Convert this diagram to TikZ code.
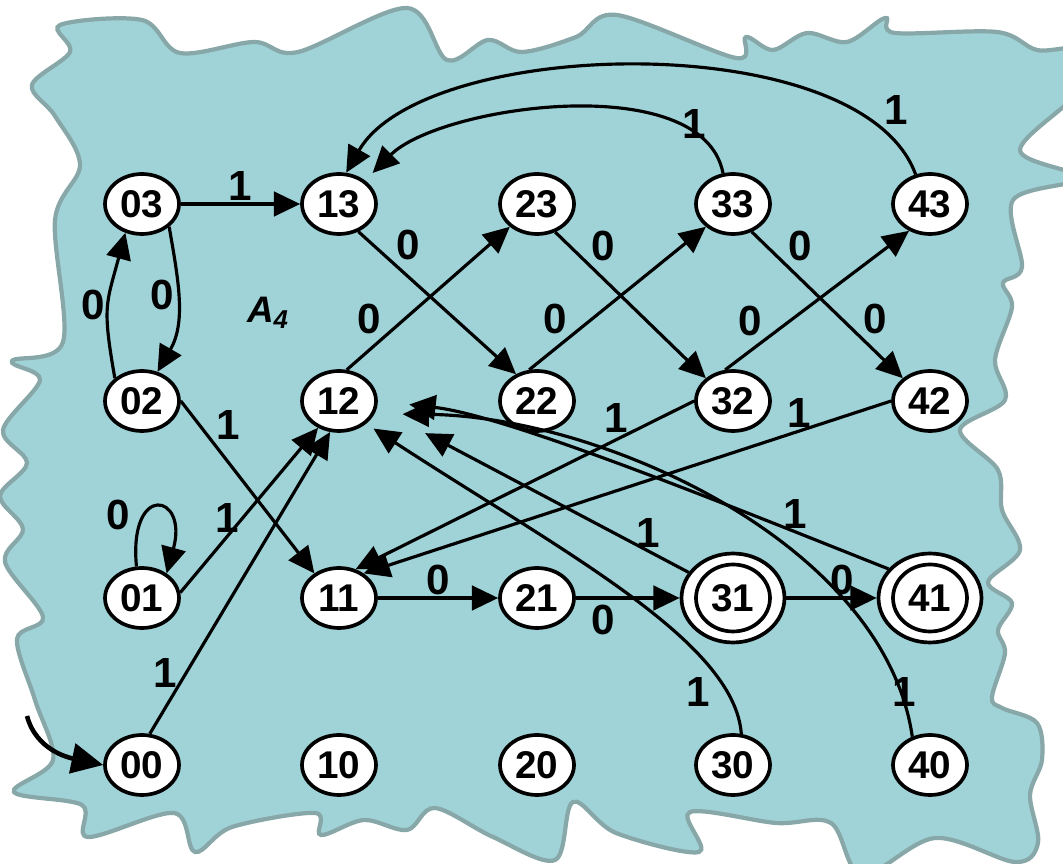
\documentclass[tikz,border=0pt]{standalone}
\usepackage{fontspec}
\setmainfont{Liberation Sans}
\usepackage{tikz}
\usetikzlibrary{shapes, arrows.meta, positioning, calc}

\definecolor{paper}{HTML}{9FD3D7}
\definecolor{paperedge}{HTML}{88A7A8}

\tikzset{
	state/.style = {ellipse, draw, line width=2.1pt, fill=white, minimum width=1.48cm,
		minimum height=1.2cm, inner sep=0pt, font=\bfseries\fontsize{22}{26}\selectfont},
	accepting/.style = {state, minimum width=2.06cm, minimum height=1.78cm,
		path picture={\draw[line width=2.1pt] (path picture bounding box.center) ellipse [x radius=0.74cm, y radius=0.67cm];}},
	trans/.style = {-{Triangle[length=15pt,width=14pt]}, line width=1.8pt},
	initarrow/.style = {-{Triangle[length=18pt,width=17pt]}, line width=2.6pt},
	lab/.style = {font=\bfseries\fontsize{24}{28}\selectfont, inner sep=1pt}
}

\begin{document}
\begin{tikzpicture}[x=0.02cm, y=0.02cm]
	\useasboundingbox (0,0) rectangle (1063,-864);
	% torn paper background
	\begin{scope}
		\clip (0,0) rectangle (1063,-864);
		\draw[paperedge, line width=2.4pt, fill=paper] plot[smooth cycle, tension=0.55] coordinates {
			(60,-25) (142,-20) (180,-53) (254,-42) (298,-52) (407,-8) (447,-60) (488,-40) (522,-52)
			(576,-37) (617,-15) (736,-58) (746,-37) (773,-50) (807,-33) (847,-42) (885,-18) (895,-33)
			(997,-32) (1037,-50) (1080,-50) (1080,-90) (1020,-150) (1080,-178) (1013,-200) (1022,-267)
			(1003,-283) (1012,-307) (995,-360) (1005,-400) (960,-430) (998,-470) (1002,-510) (1020,-550)
			(988,-582) (1012,-603) (998,-630) (1005,-653) (992,-697) (1002,-708) (1037,-723) (1042,-760)
			(1030,-795) (1038,-843) (1015,-862) (935,-838) (862,-875) (831,-823) (776,-823) (690,-812)
			(699,-852) (616,-833) (573,-802) (555,-860) (493,-837) (435,-808) (407,-830) (364,-820)
			(321,-835) (315,-813) (232,-827) (195,-852) (174,-813) (88,-837) (82,-805) (14,-792)
			(53,-760) (35,-700) (17,-639) (43,-617) (5,-562) (23,-529) (0,-496) (27,-463) (3,-430)
			(40,-380) (12,-361) (63,-342) (55,-220) (80,-165) (55,-116) (32,-85) (70,-52)};
	\end{scope}

	\node[font=\bfseries\itshape\fontsize{21}{25}\selectfont] (aname) at (268,-313) {A\textsubscript{4}};

	% states
	\node[state] (q03) at (142,-204) {03};
	\node[state] (q13) at (339,-204) {13};
	\node[state] (q23) at (537,-204) {23};
	\node[state] (q33) at (733,-204) {33};
	\node[state] (q43) at (930,-204) {43};
	\node[state] (q02) at (142,-401) {02};
	\node[state] (q12) at (339,-401) {12};
	\node[state] (q22) at (537,-401) {22};
	\node[state] (q32) at (733,-401) {32};
	\node[state] (q42) at (930,-401) {42};
	\node[state] (q01) at (142,-598) {01};
	\node[state] (q11) at (339,-598) {11};
	\node[state] (q21) at (537,-598) {21};
	\node[accepting] (q31) at (733,-598) {31};
	\node[accepting] (q41) at (930,-598) {41};
	\node[state] (q00) at (142,-765) {00};
	\node[state] (q10) at (339,-765) {10};
	\node[state] (q20) at (537,-765) {20};
	\node[state] (q30) at (733,-765) {30};
	\node[state] (q40) at (930,-765) {40};

	% start
	\coordinate (init) at (27,-716);
	\draw[initarrow] (init) to[out=-75, in=168] (q00.west);

	% transitions on 0
	\draw[trans] (q03.-40) to[out=-80, in=60] node[lab, pos=.45, left] (l1) {0} (q02.62);
	\draw[trans] (q02.140) to[out=100, in=-105, looseness=1.3] node[lab, left] (l2) {0} (q03.-120);
	\draw[trans] (q01.100) .. controls +(-8,85) and +(22,80) .. node[lab, pos=.3, left=6pt] (l3) {0} (q01.45);
	\draw[trans] (q13.-55) -- node[lab, pos=.22, above right] (l4) {0} (q22.128);
	\draw[trans] (q23.-57) -- node[lab, pos=.22, above right] (l5) {0} (q32.140);
	\draw[trans] (q33.-56) -- node[lab, pos=.22, above right] (l6) {0}
		node[lab, pos=.72, above right] (l7) {0} (q42.140);
	\draw[trans] (q12.76) -- node[lab, pos=.23, above left] (l8) {0} (q23.-140);
	\draw[trans] (q22.104) -- node[lab, pos=.23, above left] (l9) {0} (q33.-140);
	\draw[trans] (q32.104) -- node[lab, pos=.22, above left] (l10) {0} (q43.-128);
	\draw[trans] (q11) -- node[lab, above] (l11) {0} (q21);
	\draw[trans] (q21) -- node[lab, pos=.26, below=2pt] (l12) {0} (q31);
	\draw[trans] (q31) -- node[lab, pos=.62, above] (l13) {0} (q41);

	% transitions on 1
	\draw[trans] (q03) -- node[lab, above] (l14) {1} (q13);
	\draw[trans] (q02.east) -- node[lab, pos=.24, above right] (l15) {1} (q11.135);
	\draw[trans] (q01.8) -- node[lab, pos=.45, left] (l16) {1} (q12.-128);
	\draw[trans] (q00.76) -- node[lab, pos=.2, left=3pt] (l17) {1} (q12.-106);
	\draw[trans] (q32.west) -- node[lab, pos=.23, above=2pt] (l18) {1} (q11.60);
	\draw[trans] (q42.west) -- node[lab, pos=.175, above] (l19) {1} (q11.45);
	\draw[trans, shorten >=6pt] (q33.108) .. controls +(-20,105) and +(75,75) .. node[lab, pos=.17, yshift=4pt] (l20) {1} (q13.42);
	\draw[trans] (q43.116) .. controls +(-54,149) and +(78,136) .. node[lab, pos=.12, above right] (l21) {1} (q13.77);
	\draw[trans, shorten >=31pt] (q31.150) -- node[lab, pos=.13, above] (l22) {1} (q12.-10);
	\draw[trans, shorten >=18pt] (q41.145) .. controls +(-139,55) and +(133,-15) .. node[lab, pos=.2, above] (l23) {1} (q12.east);
	\draw[trans, shorten >=5pt] (q30.75) .. controls +(-7,93) and +(195,-127) .. node[lab, pos=.15, left=8pt] (l24) {1} (q12.-40);
	\draw[trans, shorten >=16pt] (q40.122) .. controls +(-28,193) and +(227,-2) .. node[lab, pos=.08, xshift=2pt] (l25) {1} (q12.-20);
\end{tikzpicture}
\end{document}
